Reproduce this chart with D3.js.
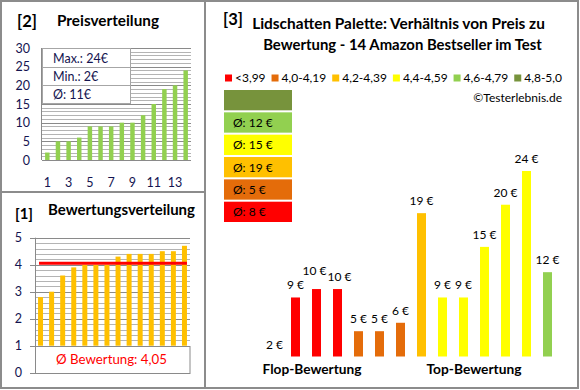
<!DOCTYPE html>
<html><head><meta charset="utf-8">
<script src="https://cdn.jsdelivr.net/npm/d3@7"></script>
<style>
body{margin:0;background:#fff;}
svg{display:block;font-family:Lato,"Noto Sans",sans-serif;}
</style></head>
<body>
<svg id="c" width="580" height="390"></svg>
<script>
// ---- data ----
const priceSorted = [2,5,5,6,9,9,9,10,10,12,15,19,20,24];
const priceTicks = [0,5,10,15,20,25,30];
const priceXLabels = [1,3,5,7,9,11,13];
const priceStats = ["Max.: 24€","Min.: 2€","Ø: 11€"];

const ratingsSorted = [2.8,3.0,3.6,3.9,4.0,4.0,4.0,4.3,4.4,4.4,4.4,4.5,4.5,4.7];
const ratingTicks = [0,1,2,3,4,5];
const ratingAvg = 4.05;
const ratingAvgLabel = "Ø Bewertung: 4,05";

const productPrices = [2,9,10,10,5,5,6,19,9,9,15,20,24,12];
const productGroup  = [0,0,0,0,1,1,1,2,3,3,3,3,3,4];
const groupLabels = ["<3,99","4,0-4,19","4,2-4,39","4,4-4,59","4,6-4,79","4,8-5,0"];
const groupColors = ["#FF0000","#E46C0A","#FFC000","#FFFF00","#92D050","#77933C"];
const groupAvg = [8,5,19,15,12,null];

const navy = "#141450";
const svg = d3.select("#c");

// fit a text's font size to a target width
function fit(sel, w){
  const n = sel.node(); const fs = +sel.attr("font-size");
  const l = n.getComputedTextLength();
  if (l>0) sel.attr("font-size", (fs*w/l).toFixed(2));
  return sel;
}

// ---- panels ----
svg.append("rect").attr("x",1).attr("y",1).attr("width",577).attr("height",387)
  .attr("fill","none").attr("stroke","#8c8c8c").attr("stroke-width",2);
svg.append("line").attr("x1",205).attr("x2",205).attr("y1",1).attr("y2",388)
  .attr("stroke","#8c8c8c").attr("stroke-width",2);
svg.append("line").attr("x1",1).attr("x2",205).attr("y1",192).attr("y2",192)
  .attr("stroke","#8c8c8c").attr("stroke-width",2);

// ---- [2] Preisverteilung ----
const g2 = svg.append("g");
fit(g2.append("text").attr("x",17).attr("y",27).attr("font-size",17).attr("font-weight","bold").text("[2]"),20);
fit(g2.append("text").attr("x",57).attr("y",26).attr("font-size",13).attr("font-weight","bold").text("Preisverteilung"),102);
const yP = d3.scaleLinear().domain([0,30]).range([160,48]);
const xP = d3.scaleBand().domain(d3.range(1,15)).range([42,191]).paddingInner(0.58).paddingOuter(0.29);
g2.selectAll(".gp").data(d3.range(1,31)).join("line")
  .attr("x1",42).attr("x2",191).attr("y1",d=>Math.round(yP(d))+0.5).attr("y2",d=>Math.round(yP(d))+0.5)
  .attr("stroke",d=>d%5===0?"#8a8a8a":"#b4b4b4").attr("stroke-width",1);
g2.append("line").attr("x1",41.5).attr("x2",41.5).attr("y1",yP(30)).attr("y2",yP(0)).attr("stroke","#8a8a8a");
g2.append("line").attr("x1",42).attr("x2",191).attr("y1",yP(0)+0.5).attr("y2",yP(0)+0.5).attr("stroke","#8a8a8a");
g2.selectAll(".bp").data(priceSorted).join("rect")
  .attr("x",(d,i)=>xP(i+1)).attr("width",xP.bandwidth())
  .attr("y",d=>yP(d)).attr("height",d=>yP(0)-yP(d)).attr("fill","#92D050");
g2.selectAll(".tp").data(priceTicks).join("text")
  .attr("x",30).attr("y",d=>yP(d)+4.5).attr("text-anchor","end").attr("font-size",12.5).attr("fill",navy).text(d=>d);
g2.selectAll(".xp").data(priceXLabels).join("text")
  .attr("x",d=>xP(d)+xP.bandwidth()/2).attr("y",187).attr("text-anchor","middle").attr("font-size",12.5).attr("fill",navy).text(d=>d);
// stats box
g2.append("rect").attr("x",42.5).attr("y",48.5).attr("width",88).attr("height",55)
  .attr("fill","#fff").attr("stroke","#a6a6a6");
[67,85].forEach(y=>g2.append("line").attr("x1",42.5).attr("x2",130.5).attr("y1",y+0.5).attr("y2",y+0.5).attr("stroke","#a6a6a6"));
g2.selectAll(".st").data(priceStats).join("text")
  .attr("x",53).attr("y",(d,i)=>63+i*18).attr("font-size",12.5).attr("fill",navy).text(d=>d);

// ---- [1] Bewertungsverteilung ----
const g1 = svg.append("g");
fit(g1.append("text").attr("x",15).attr("y",219).attr("font-size",17).attr("font-weight","bold").text("[1]"),18);
fit(g1.append("text").attr("x",48).attr("y",215).attr("font-size",13).attr("font-weight","bold").text("Bewertungsverteilung"),147);
const yR = d3.scaleLinear().domain([0,5]).range([372.7,237.7]);
const xR = d3.scaleBand().domain(d3.range(14)).range([35,190]).paddingInner(0.55).paddingOuter(0.275);
g1.selectAll(".gr").data(d3.range(1,26).map(d=>d/5)).join("line")
  .attr("x1",35).attr("x2",190).attr("y1",d=>Math.round(yR(d))+0.5).attr("y2",d=>Math.round(yR(d))+0.5)
  .attr("stroke",d=>Math.abs(d-Math.round(d))<1e-6?"#8a8a8a":"#b4b4b4");
g1.selectAll(".tk").data(ratingTicks).join("line")
  .attr("x1",30).attr("x2",35).attr("y1",d=>Math.round(yR(d))+0.5).attr("y2",d=>Math.round(yR(d))+0.5).attr("stroke","#8a8a8a");
g1.append("line").attr("x1",35.5).attr("x2",35.5).attr("y1",yR(5)).attr("y2",yR(0)).attr("stroke","#8a8a8a");
g1.selectAll(".br").data(ratingsSorted).join("rect")
  .attr("x",(d,i)=>xR(i)).attr("width",xR.bandwidth())
  .attr("y",d=>yR(d)).attr("height",d=>yR(1)-yR(d)).attr("fill","#FFC000");
g1.append("rect").attr("x",35.5).attr("y",Math.round(yR(1))+0.5).attr("width",154.5).attr("height",yR(0)-yR(1))
  .attr("fill","#fff").attr("stroke","#8a8a8a");
g1.append("line").attr("x1",xR(0)+1).attr("x2",xR(13)+xR.bandwidth()).attr("y1",yR(ratingAvg)).attr("y2",yR(ratingAvg))
  .attr("stroke","#FF0000").attr("stroke-width",3);
g1.selectAll(".tr").data(ratingTicks).join("text")
  .attr("x",22).attr("y",d=>yR(d)+4.5).attr("text-anchor","end").attr("font-size",12.5).attr("fill",navy).text(d=>d);
fit(g1.append("text").attr("x",111.5).attr("y",364).attr("text-anchor","middle").attr("font-size",14).attr("fill","#FF0000").text(ratingAvgLabel),111);

// ---- [3] main chart ----
const g3 = svg.append("g");
fit(g3.append("text").attr("x",223).attr("y",25).attr("font-size",17).attr("font-weight","bold").text("[3]"),20);
fit(g3.append("text").attr("x",398.5).attr("y",29).attr("text-anchor","middle").attr("font-size",13).attr("font-weight","bold")
  .text("Lidschatten Palette: Verhältnis von Preis zu"),293);
fit(g3.append("text").attr("x",402.5).attr("y",50).attr("text-anchor","middle").attr("font-size",13).attr("font-weight","bold")
  .text("Bewertung - 14 Amazon Bestseller im Test"),279);
// legend
const lg = g3.append("g");
let lx = 225;
const items = [];
groupLabels.forEach((lab,i)=>{
  const it = lg.append("g");
  it.append("rect").attr("x",0).attr("y",74.5).attr("width",7).attr("height",7).attr("fill",groupColors[i]);
  const t = it.append("text").attr("x",10).attr("y",82).attr("font-size",12).text(lab);
  items.push({g:it,w:10+t.node().getComputedTextLength()});
});
const totalW = d3.sum(items,d=>d.w);
const gap = (562-225-totalW)/(items.length-1);
items.forEach(d=>{d.g.attr("transform",`translate(${lx},0)`); lx += d.w+gap;});
g3.append("text").attr("x",562).attr("y",102).attr("text-anchor","end").attr("font-size",12).text("©Testerlebnis.de");
// average boxes (top: dark green ... bottom: red)
const boxOrder = d3.range(groupColors.length).reverse();
const yBox = d3.scaleBand().domain(boxOrder).range([90,222]).paddingInner(2/22).paddingOuter(0);
g3.selectAll(".ab").data(boxOrder).join("rect")
  .attr("x",224).attr("width",68).attr("y",d=>yBox(d)).attr("height",yBox.bandwidth()).attr("fill",d=>groupColors[d]);
g3.selectAll(".at").data(boxOrder.filter(d=>groupAvg[d]!==null)).join("text")
  .attr("x",233).attr("y",d=>yBox(d)+yBox.bandwidth()/2+4.5).attr("font-size",12).text(d=>`Ø: ${groupAvg[d]} €`);
// bars
const x3 = d3.scaleBand().domain(d3.range(14)).range([264,558]).paddingInner(12/21).paddingOuter(6/21);
const y3 = d3.scaleLinear().domain([2,24]).range([356.5,171]);
g3.selectAll(".b3").data(productPrices).join("rect")
  .attr("x",(d,i)=>x3(i)).attr("width",x3.bandwidth())
  .attr("y",d=>y3(d)).attr("height",d=>y3(2)-y3(d)).attr("fill",(d,i)=>groupColors[productGroup[i]]);
// label nudges for overlapping equal labels
const ndx = i=> i===2?-2:(i===3?2:0), ndy = i=> i===2?-6:0;
g3.selectAll(".l3").data(productPrices).join("text")
  .attr("x",(d,i)=>x3(i)+x3.bandwidth()/2+ndx(i)).attr("y",(d,i)=>y3(d)-8+ndy(i))
  .attr("text-anchor","middle").attr("font-size",12).text(d=>`${d} €`);
fit(g3.append("text").attr("x",312).attr("y",374).attr("text-anchor","middle").attr("font-size",13).attr("font-weight","bold").text("Flop-Bewertung"),99);
fit(g3.append("text").attr("x",474).attr("y",374).attr("text-anchor","middle").attr("font-size",13).attr("font-weight","bold").text("Top-Bewertung"),95);
</script>
</body></html>
